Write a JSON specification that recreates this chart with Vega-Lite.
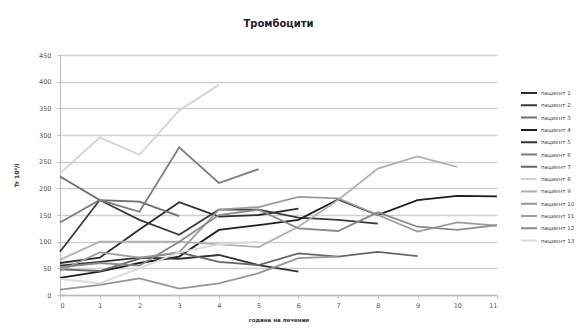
{
  "$schema": "https://vega.github.io/schema/vega-lite/v6.json",
  "width": 437,
  "height": 240,
  "autosize": {"type": "none"},
  "padding": {"left": 60, "top": 55, "right": 79, "bottom": 34},
  "background": "white",
  "title": {
    "text": "Тромбоцити",
    "font": "DejaVu Sans",
    "fontSize": 10,
    "fontWeight": "bold",
    "color": "#222",
    "anchor": "middle",
    "offset": 23
  },
  "data": {
    "values": [
      {"patient": "пациент 1", "hour": 0, "value": 60}, {"patient": "пациент 1", "hour": 1, "value": 70}, {"patient": "пациент 1", "hour": 2, "value": 123}, {"patient": "пациент 1", "hour": 3, "value": 174}, {"patient": "пациент 1", "hour": 4, "value": 147}, {"patient": "пациент 1", "hour": 5, "value": 150}, {"patient": "пациент 1", "hour": 6, "value": 162},
      {"patient": "пациент 2", "hour": 0, "value": 81}, {"patient": "пациент 2", "hour": 1, "value": 178}, {"patient": "пациент 2", "hour": 2, "value": 141}, {"patient": "пациент 2", "hour": 3, "value": 113}, {"patient": "пациент 2", "hour": 4, "value": 160}, {"patient": "пациент 2", "hour": 5, "value": 160}, {"patient": "пациент 2", "hour": 6, "value": 145}, {"patient": "пациент 2", "hour": 7, "value": 141}, {"patient": "пациент 2", "hour": 8, "value": 134},
      {"patient": "пациент 3", "hour": 0, "value": 222}, {"patient": "пациент 3", "hour": 1, "value": 178}, {"patient": "пациент 3", "hour": 2, "value": 175}, {"patient": "пациент 3", "hour": 3, "value": 148},
      {"patient": "пациент 4", "hour": 0, "value": 32}, {"patient": "пациент 4", "hour": 1, "value": 44}, {"patient": "пациент 4", "hour": 2, "value": 60}, {"patient": "пациент 4", "hour": 3, "value": 72}, {"patient": "пациент 4", "hour": 4, "value": 122}, {"patient": "пациент 4", "hour": 5, "value": 131}, {"patient": "пациент 4", "hour": 6, "value": 141}, {"patient": "пациент 4", "hour": 7, "value": 179}, {"patient": "пациент 4", "hour": 8, "value": 150}, {"patient": "пациент 4", "hour": 9, "value": 178}, {"patient": "пациент 4", "hour": 10, "value": 186}, {"patient": "пациент 4", "hour": 11, "value": 185},
      {"patient": "пациент 5", "hour": 0, "value": 55}, {"patient": "пациент 5", "hour": 1, "value": 62}, {"patient": "пациент 5", "hour": 2, "value": 70}, {"patient": "пациент 5", "hour": 3, "value": 68}, {"patient": "пациент 5", "hour": 4, "value": 75}, {"patient": "пациент 5", "hour": 5, "value": 56}, {"patient": "пациент 5", "hour": 6, "value": 44},
      {"patient": "пациент 6", "hour": 0, "value": 136}, {"patient": "пациент 6", "hour": 1, "value": 178}, {"patient": "пациент 6", "hour": 2, "value": 156}, {"patient": "пациент 6", "hour": 3, "value": 277}, {"patient": "пациент 6", "hour": 4, "value": 210}, {"patient": "пациент 6", "hour": 5, "value": 236},
      {"patient": "пациент 7", "hour": 0, "value": 48}, {"patient": "пациент 7", "hour": 1, "value": 45}, {"patient": "пациент 7", "hour": 2, "value": 68}, {"patient": "пациент 7", "hour": 3, "value": 80}, {"patient": "пациент 7", "hour": 4, "value": 62}, {"patient": "пациент 7", "hour": 5, "value": 56}, {"patient": "пациент 7", "hour": 6, "value": 78}, {"patient": "пациент 7", "hour": 7, "value": 72}, {"patient": "пациент 7", "hour": 8, "value": 81}, {"patient": "пациент 7", "hour": 9, "value": 73},
      {"patient": "пациент 8", "hour": 0, "value": 228}, {"patient": "пациент 8", "hour": 1, "value": 295}, {"patient": "пациент 8", "hour": 2, "value": 263}, {"patient": "пациент 8", "hour": 3, "value": 346}, {"patient": "пациент 8", "hour": 4, "value": 394},
      {"patient": "пациент 9", "hour": 0, "value": 66}, {"patient": "пациент 9", "hour": 1, "value": 100}, {"patient": "пациент 9", "hour": 2, "value": 100}, {"patient": "пациент 9", "hour": 3, "value": 100}, {"patient": "пациент 9", "hour": 4, "value": 95}, {"patient": "пациент 9", "hour": 5, "value": 90}, {"patient": "пациент 9", "hour": 6, "value": 128}, {"patient": "пациент 9", "hour": 7, "value": 178}, {"patient": "пациент 9", "hour": 8, "value": 237}, {"patient": "пациент 9", "hour": 9, "value": 260}, {"patient": "пациент 9", "hour": 10, "value": 240},
      {"patient": "пациент 10", "hour": 0, "value": 10}, {"patient": "пациент 10", "hour": 1, "value": 19}, {"patient": "пациент 10", "hour": 2, "value": 31}, {"patient": "пациент 10", "hour": 3, "value": 12}, {"patient": "пациент 10", "hour": 4, "value": 22}, {"patient": "пациент 10", "hour": 5, "value": 41}, {"patient": "пациент 10", "hour": 6, "value": 69}, {"patient": "пациент 10", "hour": 7, "value": 72},
      {"patient": "пациент 11", "hour": 0, "value": 45}, {"patient": "пациент 11", "hour": 1, "value": 80}, {"patient": "пациент 11", "hour": 2, "value": 70}, {"patient": "пациент 11", "hour": 3, "value": 80}, {"patient": "пациент 11", "hour": 4, "value": 160}, {"patient": "пациент 11", "hour": 5, "value": 165}, {"patient": "пациент 11", "hour": 6, "value": 184}, {"patient": "пациент 11", "hour": 7, "value": 181}, {"patient": "пациент 11", "hour": 8, "value": 150}, {"patient": "пациент 11", "hour": 9, "value": 119}, {"patient": "пациент 11", "hour": 10, "value": 136}, {"patient": "пациент 11", "hour": 11, "value": 130},
      {"patient": "пациент 12", "hour": 0, "value": 52}, {"patient": "пациент 12", "hour": 1, "value": 60}, {"patient": "пациент 12", "hour": 2, "value": 55}, {"patient": "пациент 12", "hour": 3, "value": 100}, {"patient": "пациент 12", "hour": 4, "value": 150}, {"patient": "пациент 12", "hour": 5, "value": 160}, {"patient": "пациент 12", "hour": 6, "value": 125}, {"patient": "пациент 12", "hour": 7, "value": 120}, {"patient": "пациент 12", "hour": 8, "value": 155}, {"patient": "пациент 12", "hour": 9, "value": 128}, {"patient": "пациент 12", "hour": 10, "value": 122}, {"patient": "пациент 12", "hour": 11, "value": 131},
      {"patient": "пациент 13", "hour": 0, "value": 30}, {"patient": "пациент 13", "hour": 1, "value": 22}, {"patient": "пациент 13", "hour": 2, "value": 50}, {"patient": "пациент 13", "hour": 3, "value": 80}, {"patient": "пациент 13", "hour": 4, "value": 95}, {"patient": "пациент 13", "hour": 5, "value": 100}
    ]
  },
  "mark": {"type": "line", "strokeWidth": 1.8, "interpolate": "linear"},
  "encoding": {
    "x": {
      "field": "hour",
      "type": "quantitative",
      "scale": {"domain": [0, 11], "nice": false, "zero": true},
      "axis": {
        "title": "година на лечение",
        "titleFont": "DejaVu Sans",
        "titleFontSize": 5.5,
        "titleFontWeight": "bold",
        "titleColor": "#333",
        "titlePadding": 9,
        "values": [0, 1, 2, 3, 4, 5, 6, 7, 8, 9, 10, 11],
        "format": "d",
        "labelFont": "DejaVu Sans",
        "labelFontSize": 6.5,
        "labelColor": "#555",
        "labelPadding": 4,
        "grid": false,
        "domainColor": "#bbb",
        "domainWidth": 1.5,
        "tickColor": "#bbb",
        "tickSize": 3
      }
    },
    "y": {
      "field": "value",
      "type": "quantitative",
      "scale": {"domain": [0, 450], "nice": false},
      "axis": {
        "title": "Tr 10⁹/l",
        "titleFont": "DejaVu Sans",
        "titleFontSize": 6,
        "titleFontWeight": "bold",
        "titleColor": "#333",
        "titlePadding": 19,
        "values": [0, 50, 100, 150, 200, 250, 300, 350, 400, 450],
        "labelFont": "DejaVu Sans",
        "labelFontSize": 6.5,
        "labelColor": "#555",
        "labelPadding": 6,
        "grid": true,
        "gridColor": "#cfcfcf",
        "gridWidth": 1.5,
        "domainColor": "#bbb",
        "tickColor": "#bbb",
        "tickSize": 3
      }
    },
    "color": {
      "field": "patient",
      "type": "nominal",
      "scale": {
        "domain": ["пациент 1", "пациент 2", "пациент 3", "пациент 4", "пациент 5", "пациент 6", "пациент 7", "пациент 8", "пациент 9", "пациент 10", "пациент 11", "пациент 12", "пациент 13"],
        "range": ["#2e2e2e", "#3a3a3a", "#6e6e6e", "#1e1e1e", "#333333", "#7c7c7c", "#666666", "#d2d2d2", "#b0b0b0", "#959595", "#9c9c9c", "#8a8a8a", "#dadada"]
      },
      "legend": {
        "title": null,
        "orient": "none",
        "legendX": 460,
        "legendY": 33,
        "symbolType": "stroke",
        "symbolSize": 256,
        "symbolStrokeWidth": 2,
        "clipHeight": 10,
        "labelFont": "DejaVu Sans",
        "labelFontSize": 5.5,
        "labelColor": "#444",
        "rowPadding": 2.3,
        "labelOffset": 3
      }
    }
  },
  "config": {
    "view": {"stroke": null}
  }
}
